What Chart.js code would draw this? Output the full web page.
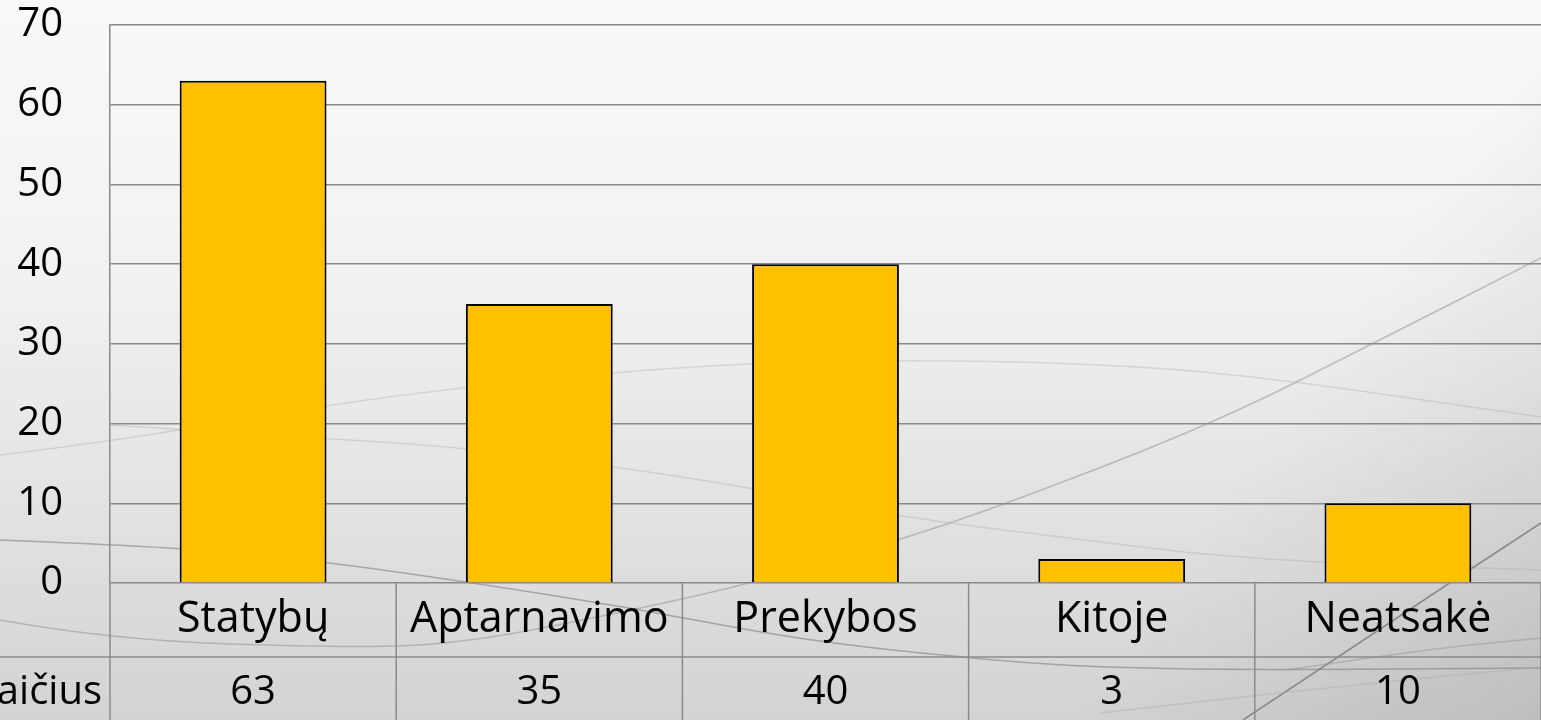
<!DOCTYPE html>
<html>
<head>
<meta charset="utf-8">
<script src="https://cdn.jsdelivr.net/npm/chart.js@4/dist/chart.umd.min.js"></script>
<style>
  html, body { margin: 0; padding: 0; background: #f0f0f0; overflow: hidden; }
  #wrap { position: relative; width: 1541px; height: 720px; }
</style>
</head>
<body>
<div id="wrap"><canvas id="c" width="1541" height="720"></canvas></div>
<script>
// ---- Data ----
const categories = ['Statybų', 'Aptarnavimo', 'Prekybos', 'Kitoje', 'Neatsakė'];
const values = [63, 35, 40, 3, 10];
const seriesName = 'Skaičius';
const yMin = 0;
const yMax = 70;
const yStep = 10;

// ---- Style ----
const FONT = "'Open Sans', 'DejaVu Sans', sans-serif";
const GRID = '#8a8a8a';
const BAR = '#FFC000';

// decorative background swooshes (not data)
const swooshes = [
  { c: 'rgba(120,120,120,0.55)', w: 1.5, p: [[0,540],[180,547],[327,562],[467,582],[633,608],[800,640],[967,658],[1083,667],[1250,670],[1541,668]] },
  { c: 'rgba(150,150,150,0.55)', w: 1.5, p: [[0,620],[110,640],[350,648],[467,643],[633,610],[753,583],[900,540],[1017,500],[1217,422],[1380,340],[1541,258]] },
  { c: 'rgba(170,170,170,0.35)', w: 1.5, p: [[0,455],[110,442],[327,405],[467,387],[617,372],[753,363],[900,360],[1083,363],[1250,375],[1541,417]] },
  { c: 'rgba(170,170,170,0.35)', w: 1.5, p: [[110,425],[327,438],[467,448],[617,467],[753,488],[900,517],[1083,540],[1250,560],[1541,570]] },
  { c: 'rgba(110,110,110,0.7)', w: 1.5, p: [[1243,720],[1390,622],[1541,523]] },
  { c: 'rgba(150,150,150,0.5)', w: 1.5, p: [[1287,670],[1420,650],[1541,638]] },
  { c: 'rgba(170,170,170,0.4)', w: 1.5, p: [[1100,713],[1320,688],[1541,667]] }
];

function smoothPath(ctx, pts) {
  ctx.beginPath();
  ctx.moveTo(pts[0][0], pts[0][1]);
  for (let i = 1; i < pts.length - 1; i++) {
    const mx = (pts[i][0] + pts[i + 1][0]) / 2;
    const my = (pts[i][1] + pts[i + 1][1]) / 2;
    ctx.quadraticCurveTo(pts[i][0], pts[i][1], mx, my);
  }
  const l = pts[pts.length - 1];
  ctx.lineTo(l[0], l[1]);
}

const backgroundPlugin = {
  id: 'bg',
  beforeDraw(chart) {
    const ctx = chart.ctx;
    const w = chart.width, h = chart.height;
    ctx.save();
    const g = ctx.createLinearGradient(0, 0, 0, h);
    g.addColorStop(0, '#f9f9f9');
    g.addColorStop(0.4, '#f1f1f1');
    g.addColorStop(0.65, '#e5e5e5');
    g.addColorStop(1, '#d3d3d3');
    ctx.fillStyle = g;
    ctx.fillRect(0, 0, w, h);
    const g2 = ctx.createLinearGradient(w * 0.65, h * 0.48, w, h);
    g2.addColorStop(0, 'rgba(0,0,0,0)');
    g2.addColorStop(0.4, 'rgba(0,0,0,0)');
    g2.addColorStop(1, 'rgba(0,0,0,0.1)');
    ctx.fillStyle = g2;
    ctx.fillRect(0, 0, w, h);
    for (const s of swooshes) {
      ctx.strokeStyle = s.c;
      ctx.lineWidth = s.w;
      smoothPath(ctx, s.p);
      ctx.stroke();
    }
    ctx.restore();
  }
};

const tablePlugin = {
  id: 'dataTable',
  afterDraw(chart) {
    const ctx = chart.ctx;
    const xs = chart.scales.x;
    const area = chart.chartArea;
    const row1Top = area.bottom;
    const rowH = 74;
    const row2Top = row1Top + rowH;
    const bottom = row2Top + rowH;
    const half = (xs.getPixelForValue(1) - xs.getPixelForValue(0)) / 2;
    ctx.save();
    ctx.strokeStyle = GRID;
    ctx.lineWidth = 1.5;
    ctx.beginPath();
    ctx.moveTo(area.left, row1Top);
    ctx.lineTo(area.left, bottom);
    for (let i = 0; i < categories.length; i++) {
      const xr = xs.getPixelForValue(i) + half;
      ctx.moveTo(xr, row1Top);
      ctx.lineTo(xr, bottom);
    }
    ctx.moveTo(0, row2Top);
    ctx.lineTo(chart.width, row2Top);
    ctx.moveTo(0, bottom);
    ctx.lineTo(chart.width, bottom);
    ctx.stroke();

    ctx.fillStyle = '#000';
    ctx.font = '40px ' + FONT;
    ctx.textBaseline = 'middle';
    ctx.textAlign = 'center';
    const ym = row2Top + rowH / 2 - 1;
    values.forEach((v, i) => {
      ctx.fillText(String(v), xs.getPixelForValue(i), ym);
    });
    ctx.textAlign = 'right';
    ctx.fillText(seriesName, area.left - 8, ym);
    ctx.restore();
  }
};

new Chart(document.getElementById('c'), {
  type: 'bar',
  data: {
    labels: categories,
    datasets: [{
      label: seriesName,
      data: values,
      backgroundColor: BAR,
      borderColor: '#000000',
      borderWidth: 2,
      borderSkipped: 'bottom',
      categoryPercentage: 1.0,
      barPercentage: 0.513
    }]
  },
  options: {
    responsive: false,
    animation: false,
    devicePixelRatio: 1,
    layout: { padding: { top: 25, right: 0, bottom: 0, left: 0 } },
    plugins: {
      legend: { display: false },
      tooltip: { enabled: false },
      title: { display: false }
    },
    scales: {
      x: {
        grid: { display: false, drawTicks: false },
        border: { display: false },
        ticks: {
          color: '#000',
          font: { family: FONT, size: 43 },
          padding: 11,
          maxRotation: 0,
          autoSkip: false
        },
        afterFit(scale) { scale.height = 137; scale.paddingLeft = 0; scale.paddingRight = 0; }
      },
      y: {
        min: yMin,
        max: yMax,
        grid: { color: GRID, lineWidth: 1.5, drawTicks: false },
        border: { display: true, color: GRID, width: 1.5 },
        ticks: {
          stepSize: yStep,
          color: '#000',
          font: { family: FONT, size: 40 },
          padding: 47
        },
        afterFit(scale) { scale.width = 110; scale.paddingTop = 0; scale.paddingBottom = 0; }
      }
    }
  },
  plugins: [backgroundPlugin, tablePlugin]
});
</script>
</body>
</html>
